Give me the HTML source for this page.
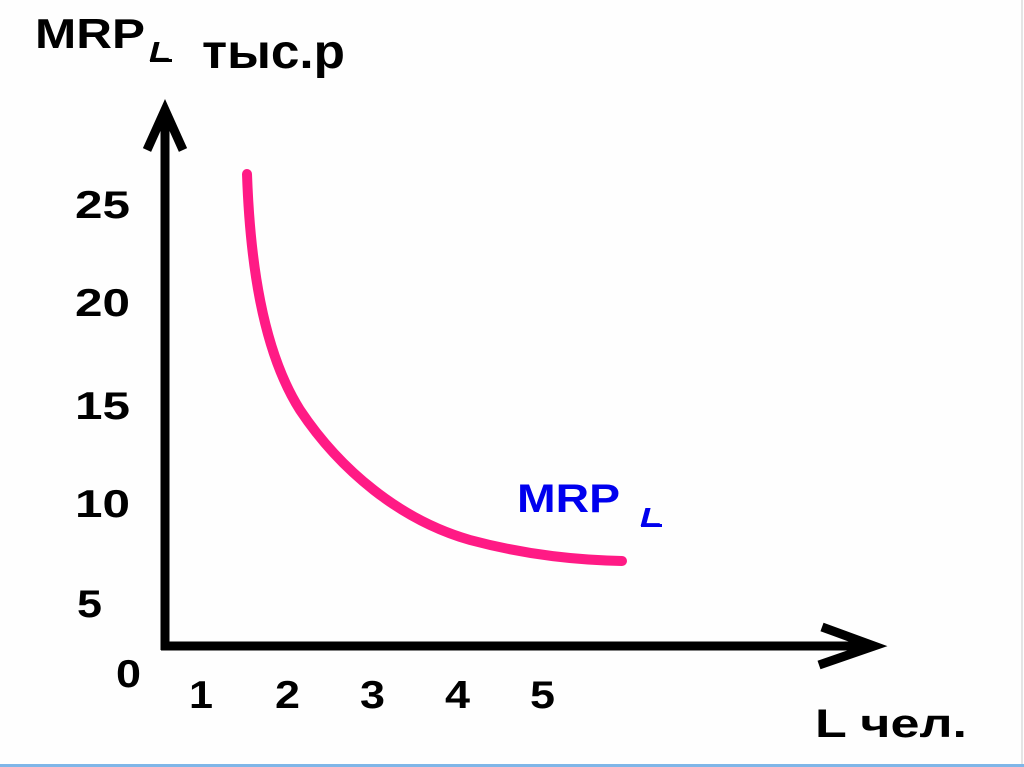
<!DOCTYPE html>
<html><head><meta charset="utf-8"><style>
html,body{margin:0;padding:0;background:#fff;}
svg{display:block}
text{font-family:"Liberation Sans",sans-serif;font-weight:bold;}
</style></head><body>
<svg width="1024" height="767" viewBox="0 0 1024 767">
<rect width="1024" height="767" fill="#fefefe"/>
<line x1="1022" y1="0" x2="1022" y2="767" stroke="#e4e4e4" stroke-width="2"/>
<line x1="0" y1="765.5" x2="1024" y2="765.5" stroke="#7fb6e8" stroke-width="3"/>
<line x1="165" y1="112" x2="165" y2="650" stroke="#000" stroke-width="9"/>
<polyline points="147,150 165,110 183,150" fill="none" stroke="#000" stroke-width="9"/>
<line x1="161" y1="646" x2="875" y2="646" stroke="#000" stroke-width="9"/>
<polyline points="822,627 874,646 819,665" fill="none" stroke="#000" stroke-width="9"/>
<path d="M247,174 C250,260 262,350 300,410 C340,470 400,520 470,540 C530,556 580,560 622,561" fill="none" stroke="#ff1a85" stroke-width="10" stroke-linecap="round"/>
<g font-size="39" fill="#000" lengthAdjust="spacingAndGlyphs">
<text x="75" y="218" textLength="55" lengthAdjust="spacingAndGlyphs">25</text>
<text x="75" y="316" textLength="55" lengthAdjust="spacingAndGlyphs">20</text>
<text x="75" y="419" textLength="55" lengthAdjust="spacingAndGlyphs">15</text>
<text x="75" y="517" textLength="55" lengthAdjust="spacingAndGlyphs">10</text>
<text x="77" y="617" textLength="25" lengthAdjust="spacingAndGlyphs">5</text>
<text x="116" y="687" textLength="25" lengthAdjust="spacingAndGlyphs">0</text>
<text x="189" y="708" textLength="24" lengthAdjust="spacingAndGlyphs">1</text>
<text x="275" y="708" textLength="25" lengthAdjust="spacingAndGlyphs">2</text>
<text x="360" y="708" textLength="25" lengthAdjust="spacingAndGlyphs">3</text>
<text x="445" y="708" textLength="25" lengthAdjust="spacingAndGlyphs">4</text>
<text x="530" y="708" textLength="25" lengthAdjust="spacingAndGlyphs">5</text>
</g>
<text x="35" y="48" font-size="42" fill="#000" textLength="110" lengthAdjust="spacingAndGlyphs">MRP</text>
<text x="149" y="61" font-size="28" font-style="italic" fill="#000" textLength="22" lengthAdjust="spacingAndGlyphs">L</text>
<line x1="150" y1="60.5" x2="172" y2="60.5" stroke="#000" stroke-width="3"/>
<text x="202" y="68" font-size="48" fill="#000" textLength="143" lengthAdjust="spacingAndGlyphs">тыс.р</text>
<text x="517" y="512" font-size="40" fill="#0000ee" textLength="103" lengthAdjust="spacingAndGlyphs">MRP</text>
<text x="640" y="526" font-size="26" font-style="italic" fill="#0000ee" textLength="22" lengthAdjust="spacingAndGlyphs">L</text>
<line x1="641" y1="525.5" x2="662" y2="525.5" stroke="#0000ee" stroke-width="3"/>
<text x="815" y="737" font-size="40" fill="#000" textLength="152" lengthAdjust="spacingAndGlyphs">L чел.</text>
</svg>
</body></html>
